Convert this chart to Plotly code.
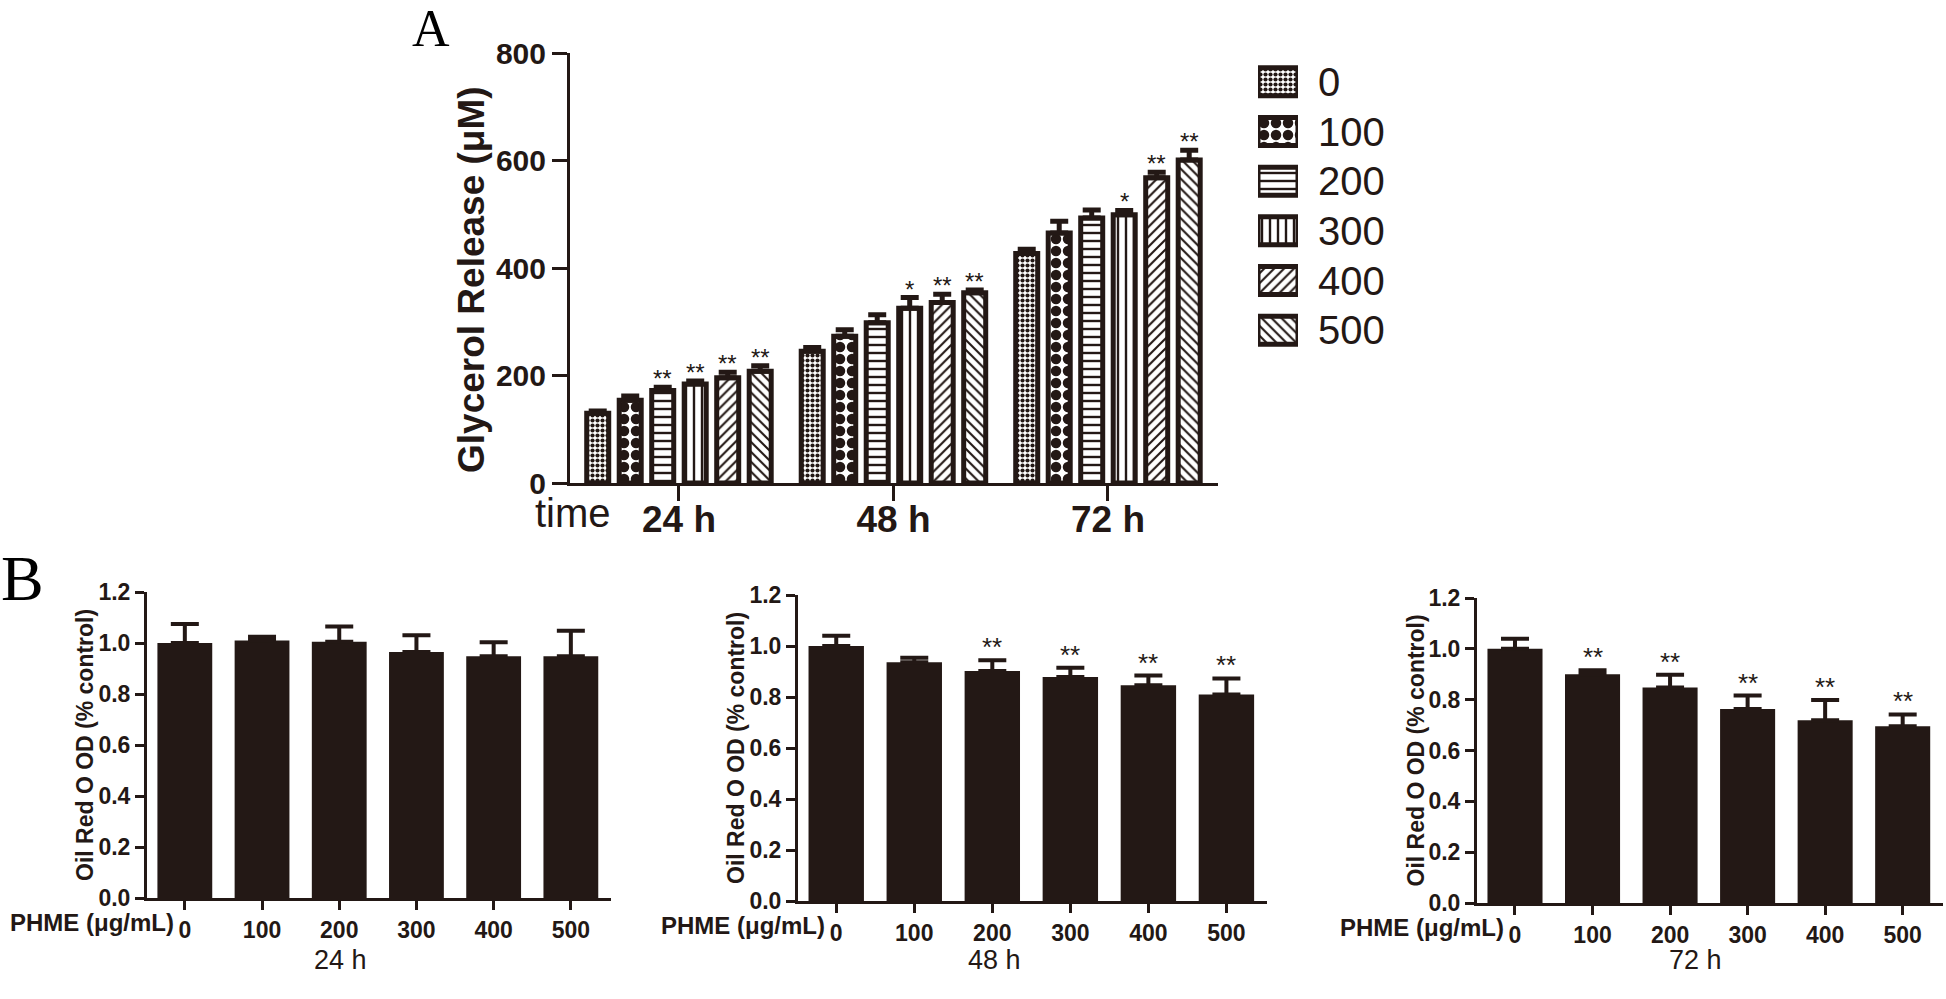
import plotly.graph_objects as go

# ---------------- data ----------------
times = ["24 h", "48 h", "72 h"]
doses = ["0", "100", "200", "300", "400", "500"]

# Panel A: glycerol release (uM) per dose, across 24/48/72 h
gly_0 = [130, 245, 427]
gly_100 = [154, 273, 465]
gly_200 = [172, 298, 493]
gly_300 = [184, 325, 499]
gly_400 = [196, 336, 568]
gly_500 = [208, 354, 601]
gly_err_0 = [4, 7, 8]
gly_err_100 = [8, 12, 22]
gly_err_200 = [6, 15, 15]
gly_err_300 = [6, 20, 8]
gly_err_400 = [10, 15, 10]
gly_err_500 = [10, 5, 18]
gly_sig_0 = ["", "", ""]
gly_sig_100 = ["", "", ""]
gly_sig_200 = ["**", "", ""]
gly_sig_300 = ["**", "*", "*"]
gly_sig_400 = ["**", "**", "**"]
gly_sig_500 = ["**", "**", "**"]

# Panel B: Oil Red O OD (% control)
ord_24 = [1.00, 1.01, 1.005, 0.965, 0.948, 0.948]
ord_err_24 = [0.075, 0.015, 0.06, 0.065, 0.055, 0.10]
ord_sig_24 = ["", "", "", "", "", ""]
ord_48 = [1.00, 0.936, 0.902, 0.878, 0.846, 0.81]
ord_err_48 = [0.04, 0.018, 0.042, 0.037, 0.038, 0.063]
ord_sig_48 = ["", "", "**", "**", "**", "**"]
ord_72 = [1.00, 0.90, 0.848, 0.763, 0.719, 0.695]
ord_err_72 = [0.04, 0.016, 0.05, 0.053, 0.08, 0.047]
ord_sig_72 = ["", "**", "**", "**", "**", "**"]

y_ticks_A = [0, 200, 400, 600, 800]
y_ticks_B = [0.0, 0.2, 0.4, 0.6, 0.8, 1.0, 1.2]
swatch_len = [1, 1, 1, 1, 1, 1]

# pattern styles per dose
pat_shape = [".", ".", "-", "|", "/", "\\"]
pat_size = [5, 12, 8, 8, 7, 7]
pat_solid = [0.55, 0.6, 0.3, 0.3, 0.3, 0.3]

# ---------------- layout helpers ----------------
W, H = 1946, 999
INK = "#231815"
SANS = "Liberation Sans, Arial, Helvetica, sans-serif"
SERIF = "Liberation Serif, Times New Roman, serif"


def dx(a, b):
    return [a / W, b / W]


def dy(top, bottom):
    return [1 - bottom / H, 1 - top / H]


def px(x):
    return x / W


def py(y):
    return 1 - y / H


def note(x, y, text, size, weight="normal", family=SANS, angle=0,
         xanchor="center", yanchor="middle", color=INK):
    return dict(x=px(x), y=py(y), xref="paper", yref="paper", text=text,
                textangle=angle, showarrow=False, xanchor=xanchor, yanchor=yanchor,
                font=dict(family=family, size=size, color=color, weight=weight))


fig = go.Figure()

gly_vals = [gly_0, gly_100, gly_200, gly_300, gly_400, gly_500]
gly_errs = [gly_err_0, gly_err_100, gly_err_200, gly_err_300, gly_err_400, gly_err_500]
gly_sigs = [gly_sig_0, gly_sig_100, gly_sig_200, gly_sig_300, gly_sig_400, gly_sig_500]

BARGAP = 0.091
BARGROUPGAP = 0.323

for i, d in enumerate(doses):
    fig.add_trace(go.Bar(
        x=times, y=gly_vals[i], name=d, xaxis="x", yaxis="y",
        marker=dict(color="white", line=dict(color=INK, width=5),
                    pattern=dict(shape=pat_shape[i], size=pat_size[i],
                                 solidity=pat_solid[i], fgcolor=INK,
                                 bgcolor="white", fillmode="replace")),
        error_y=dict(type="data", array=gly_errs[i], arrayminus=[0] * len(times),
                     symmetric=False, color=INK, thickness=5, width=9),
        showlegend=False,
    ))

slot = (1 - BARGAP) / len(doses)
annotations = []
for i in range(len(doses)):
    for g in range(len(times)):
        if gly_sigs[i][g]:
            annotations.append(dict(
                x=g + (i - (len(doses) - 1) / 2) * slot,
                y=gly_vals[i][g] + gly_errs[i][g], xref="x", yref="y",
                text=gly_sigs[i][g], showarrow=False, xanchor="center",
                yanchor="bottom", yshift=-7,
                font=dict(family=SANS, size=24, color=INK)))

# Panel B
b_vals = [ord_24, ord_48, ord_72]
b_errs = [ord_err_24, ord_err_48, ord_err_72]
b_sigs = [ord_sig_24, ord_sig_48, ord_sig_72]
b_axes = [("x2", "y2"), ("x3", "y3"), ("x4", "y4")]
for k in range(3):
    xa, ya = b_axes[k]
    fig.add_trace(go.Bar(
        x=doses, y=b_vals[k], xaxis=xa, yaxis=ya, width=0.71,
        marker=dict(color=INK, line=dict(width=0)),
        error_y=dict(type="data", array=b_errs[k], arrayminus=[0] * len(doses),
                     symmetric=False, color=INK, thickness=4, width=14),
        showlegend=False,
    ))
    for j, s in enumerate(b_sigs[k]):
        if s:
            annotations.append(dict(
                x=j, y=b_vals[k][j] + b_errs[k][j], xref=xa, yref=ya,
                text=s, showarrow=False, xanchor="center", yanchor="bottom", yshift=-4,
                font=dict(family=SANS, size=26, color=INK)))

# legend swatches as a small bar chart
fig.add_trace(go.Bar(
    x=swatch_len, y=doses, orientation="h", xaxis="x5", yaxis="y5", width=0.565,
    marker=dict(color="white", line=dict(color=INK, width=5),
                pattern=dict(shape=pat_shape, size=pat_size, solidity=pat_solid,
                             fgcolor=INK, bgcolor="white", fillmode="replace")),
    showlegend=False, hoverinfo="skip",
))

axis_common = dict(showgrid=False, zeroline=False, showline=True, linecolor=INK,
                   linewidth=3, ticks="outside", tickcolor=INK, tickwidth=3)

layout = dict(
    width=W, height=H, margin=dict(l=0, r=0, t=0, b=0),
    paper_bgcolor="white", plot_bgcolor="white",
    template="none", barmode="group", bargap=BARGAP, bargroupgap=BARGROUPGAP,
    showlegend=False,
    xaxis=dict(domain=dx(570, 1218), type="category", range=[-0.508, 2.513], ticklen=15,
               ticklabelstandoff=-13,
               tickfont=dict(family=SANS, size=37, color=INK, weight="bold"),
               anchor="y", **axis_common),
    yaxis=dict(domain=dy(53, 483), range=[0, 800], tickvals=y_ticks_A, ticklen=15,
               tickfont=dict(family=SANS, size=30, color=INK, weight="bold"),
               anchor="x", **axis_common),
)

b_dom = [((147, 611), (592, 898)), ((798, 1267), (595, 901)), ((1477, 1943), (598, 903))]
B_RANGE = [-0.49, 5.52]
for k in range(3):
    (xl, xr), (yt, yb) = b_dom[k]
    n = k + 2
    layout[f"xaxis{n}"] = dict(domain=dx(xl, xr), type="category", range=B_RANGE, ticklen=9,
                              tickfont=dict(family=SANS, size=23, color=INK, weight="bold"),
                              anchor=f"y{n}", **axis_common)
    layout[f"yaxis{n}"] = dict(domain=dy(yt, yb), range=[0, 1.2], tickvals=y_ticks_B,
                              tickformat=".1f", ticklen=9,
                              tickfont=dict(family=SANS, size=23, color=INK, weight="bold"),
                              anchor=f"x{n}", **axis_common)
    # y title
    annotations.append(note(xl - 62, (yt + yb) / 2, "Oil Red O OD (% control)", 23,
                            weight="bold", angle=-90))
    # x label (left of tick labels)
    tick0 = xl + (0 - B_RANGE[0]) / (B_RANGE[1] - B_RANGE[0]) * (xr - xl)
    annotations.append(note(tick0 - 9, yb + 24, "PHME (μg/mL)", 24, weight="bold",
                            xanchor="right"))

layout["xaxis5"] = dict(domain=dx(1258, 1298), range=[0, 1], visible=False, anchor="y5")
layout["yaxis5"] = dict(domain=dy(57, 355), type="category", range=[5.5, -0.5], side="right",
                        anchor="x5", showgrid=False, zeroline=False, showline=False,
                        ticks="outside", ticklen=11, tickcolor="rgba(0,0,0,0)",
                        tickfont=dict(family=SANS, size=40, color=INK))

# Titles and panel letters
annotations += [
    note(471, 280, "Glycerol Release (μM)", 37, weight="bold", angle=-90),
    note(613, 513, "time", 40, xanchor="right"),
    note(431, 28, "A", 52, family=SERIF, color="black"),
    note(22, 578, "B", 64, family=SERIF, color="black"),
]
for k, t in enumerate(times):
    cx = [340, 994, 1695][k]
    annotations.append(note(cx, 960, t, 27))

layout["annotations"] = annotations
fig.update_layout(**layout)
fig.write_html("out.html", config={"displayModeBar": False},
               post_script="document.body.style.margin='0';")
